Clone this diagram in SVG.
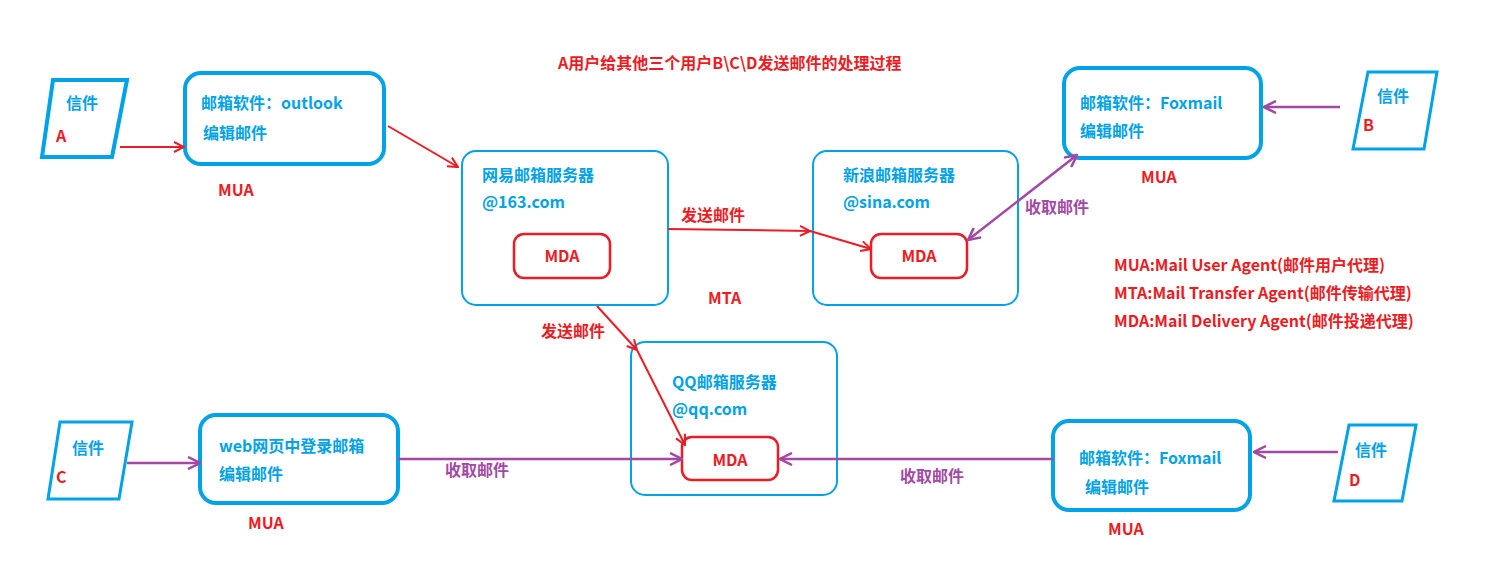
<svg xmlns="http://www.w3.org/2000/svg" width="1499" height="582" viewBox="0 0 1499 582">
<style>
text{font-family:"Noto Sans CJK SC","Liberation Sans",sans-serif;font-size:16px;font-weight:bold}
.b{fill:#00a2e8}.r{fill:#ed1c24}.p{fill:#a349a4}
.bx{fill:none;stroke:#00a2e8}
.thick{stroke-width:4}.thin{stroke-width:2}
.mda{fill:none;stroke:#ed1c24;stroke-width:2.5}
.lr{stroke:#ed1c24;stroke-width:2;fill:none}
.lp{stroke:#a349a4;stroke-width:2.5;fill:none}
</style>
<defs>
<marker id="ar" viewBox="0 0 12 12" refX="11" refY="6" markerWidth="12" markerHeight="12" markerUnits="userSpaceOnUse" orient="auto-start-reverse"><path d="M1,1 L11,6 L1,11" fill="none" stroke="#ed1c24" stroke-width="2"/></marker>
<marker id="ap" viewBox="0 0 14 14" refX="13" refY="7" markerWidth="14" markerHeight="14" markerUnits="userSpaceOnUse" orient="auto-start-reverse"><path d="M1,1 L13,7 L1,13" fill="none" stroke="#a349a4" stroke-width="2.5"/></marker>
</defs>
<rect width="1499" height="582" fill="#fff"/>
<text class="r" x="558" y="69">A用户给其他三个用户B\C\D发送邮件的处理过程</text>
<g id="letterA"><polygon class="bx thick" points="53,80 127,80 112,157 42,157" stroke-width="3"/><text class="b" x="66" y="109">信件</text><text class="r" x="56" y="142">A</text></g>
<g id="outlook"><rect class="bx thick" x="185" y="73" width="199" height="91" rx="16"/><text class="b" x="201" y="109">邮箱软件：outlook</text><text class="b" x="203" y="139">编辑邮件</text><text class="r" x="218" y="196">MUA</text></g>
<g id="s163"><rect class="bx thin" x="462" y="151" width="206" height="154" rx="14"/><text class="b" x="482" y="181">网易邮箱服务器</text><text class="b" x="482" y="208">@163.com</text><rect class="mda" x="514" y="234" width="96" height="44" rx="10"/><text class="r" x="562" y="262" text-anchor="middle">MDA</text></g>
<g id="sina"><rect class="bx thin" x="813" y="151" width="205" height="154" rx="14"/><text class="b" x="843" y="181">新浪邮箱服务器</text><text class="b" x="843" y="208">@sina.com</text><rect class="mda" x="871" y="234" width="96" height="44" rx="10"/><text class="r" x="919" y="262" text-anchor="middle">MDA</text></g>
<text class="r" x="708" y="304">MTA</text>
<g id="foxB"><rect class="bx thick" x="1064" y="68" width="197" height="90" rx="16"/><text class="b" x="1080" y="109">邮箱软件：Foxmail</text><text class="b" x="1080" y="137">编辑邮件</text><text class="r" x="1141" y="183">MUA</text></g>
<g id="letterB"><polygon class="bx" points="1368,72 1437,72 1424,149 1353,149" stroke-width="3"/><text class="b" x="1377" y="102">信件</text><text class="r" x="1363" y="131">B</text></g>
<g id="legend"><text class="r" x="1114" y="271">MUA:Mail User Agent(邮件用户代理)</text><text class="r" x="1114" y="299">MTA:Mail Transfer Agent(邮件传输代理)</text><text class="r" x="1114" y="327">MDA:Mail Delivery Agent(邮件投递代理)</text></g>
<g id="qq"><rect class="bx thin" x="631" y="342" width="206" height="153" rx="14"/><text class="b" x="672" y="388">QQ邮箱服务器</text><text class="b" x="672" y="415">@qq.com</text><rect class="mda" x="682" y="437" width="96" height="43" rx="10"/><text class="r" x="730" y="466" text-anchor="middle">MDA</text></g>
<g id="letterC"><polygon class="bx" points="60,422 132,422 119,499 48,499" stroke-width="3"/><text class="b" x="72" y="454">信件</text><text class="r" x="56" y="483">C</text></g>
<g id="web"><rect class="bx thick" x="200" y="415" width="198" height="88" rx="16"/><text class="b" x="219" y="452">web网页中登录邮箱</text><text class="b" x="219" y="480">编辑邮件</text><text class="r" x="248" y="529">MUA</text></g>
<g id="foxD"><rect class="bx thick" x="1053" y="421" width="197" height="89" rx="16"/><text class="b" x="1079" y="464">邮箱软件：Foxmail</text><text class="b" x="1085" y="493">编辑邮件</text><text class="r" x="1108" y="535">MUA</text></g>
<g id="letterD"><polygon class="bx" points="1349,425 1416,425 1402,501 1334,501" stroke-width="3"/><text class="b" x="1355" y="456">信件</text><text class="r" x="1349" y="486">D</text></g>
<g id="connectors">
<line class="lr" x1="120" y1="147" x2="184" y2="147" marker-end="url(#ar)"/>
<line class="lr" x1="388" y1="126" x2="458" y2="167" marker-end="url(#ar)"/>
<line class="lr" x1="668" y1="229" x2="810" y2="231" marker-end="url(#ar)"/>
<line class="lr" x1="810" y1="231" x2="871" y2="249" marker-end="url(#ar)"/>
<text class="r" x="681" y="221">发送邮件</text>
<line class="lr" x1="597" y1="306" x2="637" y2="350" marker-end="url(#ar)"/>
<line class="lr" x1="637" y1="350" x2="685" y2="445" marker-end="url(#ar)"/>
<text class="r" x="541" y="337">发送邮件</text>
<line class="lp" x1="1340" y1="107" x2="1264" y2="107" marker-end="url(#ap)"/>
<line class="lp" x1="1077" y1="155" x2="968" y2="240" marker-start="url(#ap)" marker-end="url(#ap)"/>
<text class="p" x="1025" y="213">收取邮件</text>
<line class="lp" x1="127" y1="463" x2="200" y2="463" marker-end="url(#ap)"/>
<line class="lp" x1="398" y1="459" x2="682" y2="459" marker-end="url(#ap)"/>
<text class="p" x="445" y="476">收取邮件</text>
<line class="lp" x1="1338" y1="452" x2="1254" y2="452" marker-end="url(#ap)"/>
<line class="lp" x1="1053" y1="459" x2="780" y2="459" marker-end="url(#ap)"/>
<text class="p" x="900" y="482">收取邮件</text>
</g>
</svg>
